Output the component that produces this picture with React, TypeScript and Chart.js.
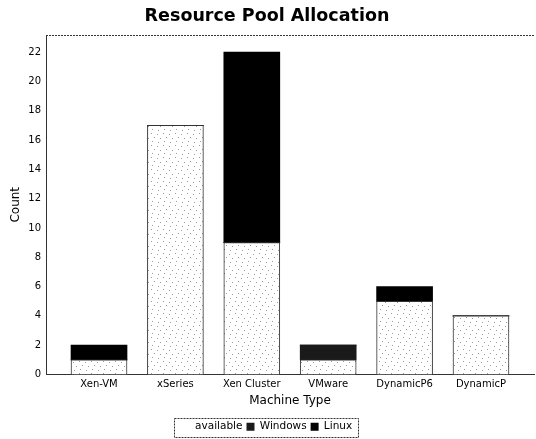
import React, { useEffect, useRef } from "react";
import { Chart, registerables } from "chart.js";

Chart.register(...registerables);

const categories = ["Xen-VM", "xSeries", "Xen Cluster", "VMware", "DynamicP6", "DynamicP"];
const available = [1, 17, 9, 1, 5, 4];
const windows = [0, 0, 0, 1, 0, 0];
const linux = [1, 0, 13, 0, 1, 0];
const yTickStep = 2;
const yMax = 23.16;

const FONT = "'DejaVu Sans', sans-serif";

function makePattern(): CanvasPattern | string {
  const c = document.createElement("canvas");
  c.width = 12;
  c.height = 12;
  const g = c.getContext("2d");
  if (!g) return "#f4f4f4";
  g.fillStyle = "#ffffff";
  g.fillRect(0, 0, 12, 12);
  g.fillStyle = "#9a9a9a";
  const dots = [[1, 2], [7, 1], [4, 6], [10, 5], [2, 10], [8, 9]];
  dots.forEach(([x, y]) => g.fillRect(x, y, 1, 1));
  const p = g.createPattern(c, "repeat");
  return p || "#f4f4f4";
}

const frame = {
  id: "frame",
  afterDraw(chart: any) {
    const { ctx, chartArea } = chart;
    ctx.save();
    ctx.strokeStyle = "#333";
    ctx.lineWidth = 1;
    ctx.setLineDash([2, 1]);
    ctx.beginPath();
    ctx.moveTo(chartArea.left, chartArea.top + 0.5);
    ctx.lineTo(chartArea.right, chartArea.top + 0.5);
    ctx.stroke();
    const lg = chart.legend;
    if (lg && lg.legendHitBoxes && lg.legendHitBoxes.length) {
      const hb = lg.legendHitBoxes;
      let l = Infinity, t = Infinity, r = -Infinity, b = -Infinity;
      hb.forEach((h: any) => {
        l = Math.min(l, h.left);
        t = Math.min(t, h.top);
        r = Math.max(r, h.left + h.width);
        b = Math.max(b, h.top + h.height);
      });
      ctx.strokeRect(Math.round(l - 8) + 0.5, Math.round(t - 4) + 0.5, Math.round(r - l + 14), Math.round(b - t + 8));
    }
    ctx.restore();
  },
};

export default function App() {
  const ref = useRef<HTMLCanvasElement | null>(null);
  useEffect(() => {
    if (!ref.current) return;
    const pattern = makePattern();
    const toXY = (arr: number[]) => arr.map((v, i) => ({ x: i, y: v }));
    const chart = new Chart(ref.current, {
      type: "bar",
      data: {
        datasets: [
          {
            label: "available",
            data: toXY(available) as any,
            backgroundColor: pattern as any,
            borderColor: "#333",
            borderWidth: 1,
            barThickness: 56,
          },
          {
            label: "Windows",
            data: toXY(windows) as any,
            backgroundColor: "#1a1a1a",
            borderColor: "#000",
            borderWidth: 0,
            barThickness: 56,
          },
          {
            label: "Linux",
            data: toXY(linux) as any,
            backgroundColor: "#000000",
            borderColor: "#000",
            borderWidth: 0,
            barThickness: 56,
          },
        ],
      },
      options: {
        animation: false,
        responsive: true,
        maintainAspectRatio: false,
        layout: { padding: { left: 0, right: 2, top: 0, bottom: -3 } },
        plugins: {
          title: {
            display: true,
            text: "Resource Pool Allocation",
            color: "#000",
            font: { family: FONT, size: 17.5, weight: "bold" },
            padding: { top: 6, bottom: 8 },
          },
          legend: {
            position: "bottom",
            labels: {
              color: "#000",
              font: { family: FONT, size: 10.5 },
              boxWidth: 8,
              boxHeight: 8,
              padding: 4,
              generateLabels: (ch: any) => {
                const items = Chart.defaults.plugins.legend.labels.generateLabels(ch);
                items.forEach((it: any, i: number) => {
                  if (i === 0) {
                    it.fillStyle = "#ffffff";
                    it.strokeStyle = "#ffffff";
                  } else {
                    it.strokeStyle = "#000";
                  }
                  it.lineWidth = 0;
                });
                return items;
              },
            },
          },
          tooltip: { enabled: false },
        },
        scales: {
          x: {
            type: "linear",
            stacked: true,
            offset: false,
            min: -0.694,
            max: 5.694,
            grid: { display: false, drawTicks: false, offset: false },
            border: { display: true, color: "#333", dash: [2, 1] },
            afterBuildTicks: (axis: any) => {
              axis.ticks = categories.map((_, i) => ({ value: i }));
            },
            afterFit: (axis: any) => {
              axis.height = 43;
            },
            ticks: {
              color: "#000",
              font: { family: FONT, size: 10 },
              padding: 4,
              autoSkip: false,
              maxRotation: 0,
              callback: (v: any) => categories[v] ?? "",
            },
            title: {
              display: true,
              text: "Machine Type",
              color: "#000",
              font: { family: FONT, size: 12 },
              padding: { top: 2, bottom: 9 },
            },
          },
          y: {
            stacked: true,
            min: 0,
            max: yMax,
            grid: { display: false, drawTicks: false },
            border: { display: true, color: "#333", dash: [2, 1] },
            afterFit: (axis: any) => {
              axis.width = 46;
            },
            ticks: {
              stepSize: yTickStep,
              includeBounds: false,
              color: "#000",
              font: { family: FONT, size: 10 },
              padding: 5,
            },
            title: {
              display: true,
              text: "Count",
              color: "#000",
              font: { family: FONT, size: 12 },
              padding: { top: 9, bottom: 4 },
            },
          },
        },
      },
      plugins: [frame],
    });
    return () => chart.destroy();
  }, []);
  return (
    <div style={{ position: "fixed", left: 0, top: 0, width: 536, height: 439, background: "#fff" }}>
      <canvas ref={ref} />
    </div>
  );
}
